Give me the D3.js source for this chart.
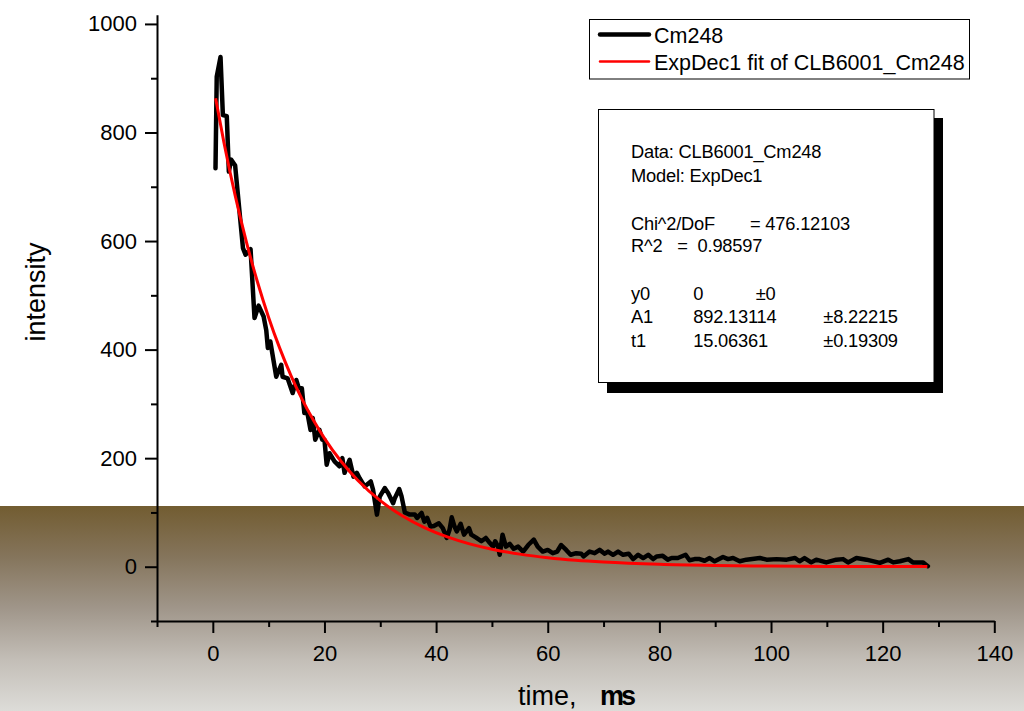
<!DOCTYPE html>
<html>
<head>
<meta charset="utf-8">
<script src="https://cdn.jsdelivr.net/npm/d3@7"></script>
<style>
  html, body { margin: 0; padding: 0; background: #fff; }
  svg { display: block; font-family: "Liberation Sans", Arial, sans-serif; }
</style>
</head>
<body>
<svg id="chart" width="1024" height="711"></svg>
<script>
// ---- data ----
const timeMs = [0.48,0.7,1.38,1.8,2.5,2.87,3.3,4.0,5.4,5.86,6.76,7.47,8.2,9.1,9.57,9.86,10.3,11.36,12.26,12.5,13.4,14.3,14.95,15.4,15.95,16.4,16.9,17.5,17.9,18.35,19.1,19.6,20.0,20.4,20.9,21.8,22.7,23.2,23.6,24.5,25.2,25.8,26.3,27.2,28.3,28.7,29.4,29.9,30.8,31.4,32.3,32.6,33.4,33.8,34.4,35.3,36.2,36.6,37.4,37.9,38.4,39.0,39.6,40.5,41.2,41.9,42.4,42.8,43.3,43.7,44.4,45.0,45.9,46.3,47.1,48.1,48.9,49.6,50.2,50.6,51.1,51.4,51.9,52.5,53.2,53.9,54.7,55.6,56.5,57.5,58.2,59.1,60.0,60.9,61.7,62.4,63.3,64.1,65.1,66.0,66.4,67.5,68.4,69.3,70.2,70.8,71.7,72.6,73.5,74.5,75.3,76.2,77.1,78.0,78.9,79.5,80.6,81.5,82.2,83.3,84.7,85.4,86.3,87.2,88.1,89.0,89.9,91.4,92.3,93.2,94.4,95.6,98.0,99.2,101.0,102.8,104.3,105.1,106.0,107.2,108.1,109.9,111.7,112.9,113.8,115.3,117.1,119.5,121.0,121.9,123.1,124.6,125.4,127.2,128.1];
const intensity = [734,903,939,832,830,728,750,739,587,575,585,458,481,461,436,403,415,350,372,350,347,320,344,329,329,283,286,252,274,234,252,234,234,188,209,194,185,200,173,197,166,173,163,148,157,142,96,129,145,136,117,126,143,130,100,96,96,90,99,83,90,74,75,80,71,53,68,91,74,65,79,59,71,59,54,47,53,44,37,47,37,22,59,37,42,33,37,28,40,50,37,28,31,25,28,40,31,22,25,24,19,28,25,31,24,28,22,28,22,24,14,22,16,22,14,19,20,13,16,16,22,12,14,14,11,16,10,18,14,16,10,13,16,13,14,13,16,10,16,8,13,8,13,14,8,16,13,7,13,8,10,14,8,8,1];

const fitTime = [0.5,2,4,6,8,10,12,14,16,18,20,23,26,30,34,38,42,46,50,55,60,65,70,80,90,100,110,120,128];
const fitValue = [863.0,781.2,684.1,599.0,524.5,459.3,402.2,352.2,308.4,270.1,236.5,193.8,158.8,121.8,93.4,71.6,54.9,42.1,32.3,23.2,16.6,11.9,8.6,4.4,2.3,1.2,0.6,0.3,0.2];

const xMajorTicks = [0,20,40,60,80,100,120,140];
const xMinorTicks = [-10,10,30,50,70,90,110,130];
const yMajorTicks = [0,200,400,600,800,1000];
const yMinorTicks = [-100,100,300,500,700,900];

const legendLabels = ["Cm248", "ExpDec1 fit of CLB6001_Cm248"];
const statsLines = [
  ["Data: CLB6001_Cm248"],
  ["Model: ExpDec1"],
  [],
  ["Chi^2/DoF", "= 476.12103"],
  ["R^2", "=  0.98597"],
  [],
  ["y0", "0", "±0"],
  ["A1", "892.13114", "±8.22215"],
  ["t1", "15.06361", "±0.19309"]
];

// ---- drawing ----
const svg = d3.select("#chart");
const defs = svg.append("defs");
const grad = defs.append("linearGradient").attr("id", "bg").attr("x1", 0).attr("y1", 0).attr("x2", 0).attr("y2", 1);
[[0, "#725c31"], [0.25, "#85755c"], [0.5, "#a0968a"], [0.75, "#c3beb7"], [1, "#dddcd8"]]
  .forEach(([o, c]) => grad.append("stop").attr("offset", o).attr("stop-color", c));

svg.append("rect").attr("x", 0).attr("y", 0).attr("width", 1024).attr("height", 711).attr("fill", "#fff");
svg.append("rect").attr("x", 0).attr("y", 506).attr("width", 1024).attr("height", 205).attr("fill", "url(#bg)");

const x = d3.scaleLinear().domain([-10, 140]).range([157, 994.3]);
const y = d3.scaleLinear().domain([-100, 1017]).range([621, 14.7]);

// axes
const gy = svg.append("g").attr("transform", "translate(157,0)");
gy.call(d3.axisLeft(y).tickValues(yMajorTicks).tickSize(12).tickSizeOuter(0).tickPadding(8).tickFormat(d3.format("d")));
const gyMinor = svg.append("g").attr("transform", "translate(157,0)");
gyMinor.call(d3.axisLeft(y).tickValues(yMinorTicks).tickSize(6).tickSizeOuter(0).tickFormat(""));
gyMinor.select(".domain").remove();

const gx = svg.append("g").attr("transform", "translate(0,621)");
gx.call(d3.axisBottom(x).tickValues(xMajorTicks).tickSize(12).tickSizeOuter(0).tickPadding(12).tickFormat(d3.format("d")));
const gxMinor = svg.append("g").attr("transform", "translate(0,621)");
gxMinor.call(d3.axisBottom(x).tickValues(xMinorTicks).tickSize(6).tickSizeOuter(0).tickFormat(""));
gxMinor.select(".domain").remove();

svg.selectAll(".domain, .tick line").attr("stroke", "#000").attr("stroke-width", 2);
svg.selectAll(".tick text").attr("font-size", 22).attr("fill", "#000")
  .attr("font-family", "'Liberation Sans', Arial, sans-serif");

// axis titles
svg.append("text").attr("transform", "translate(45,292) rotate(-90)")
  .attr("text-anchor", "middle").attr("font-size", 27).text("intensity");
const xt = svg.append("text").attr("y", 705).attr("font-size", 27);
xt.append("tspan").attr("x", 518).text("time,");
xt.append("tspan").attr("x", 600).attr("font-weight", "bold").attr("letter-spacing", -3).text("ms");

// data
const dataPts = timeMs.map((t, i) => [t, intensity[i]]);
const fitPts = fitTime.map((t, i) => [t, fitValue[i]]);
const line = d3.line().x(d => x(d[0])).y(d => y(d[1]));

svg.append("path").datum(dataPts).attr("d", line.curve(d3.curveLinear))
  .attr("fill", "none").attr("stroke", "#000").attr("stroke-width", 4.5)
  .attr("stroke-linejoin", "round").attr("stroke-linecap", "round");
svg.append("path").datum(fitPts).attr("d", d3.line().x(d => x(d[0])).y(d => y(d[1])).curve(d3.curveMonotoneX))
  .attr("fill", "none").attr("stroke", "#ff0000").attr("stroke-width", 3);

// legend
const lg = svg.append("g");
lg.append("rect").attr("x", 589.5).attr("y", 19.5).attr("width", 380).attr("height", 59.5)
  .attr("fill", "#fff").attr("stroke", "#000").attr("stroke-width", 1);
const legendColors = ["#000", "#ff0000"];
const legendWidths = [4.5, 2.5];
legendLabels.forEach((lab, i) => {
  const yy = 34.5 + i * 27;
  lg.append("line").attr("x1", 600).attr("x2", 649).attr("y1", yy).attr("y2", yy)
    .attr("stroke", legendColors[i]).attr("stroke-width", legendWidths[i]).attr("stroke-linecap", "round");
  lg.append("text").attr("x", 654).attr("y", yy + 8).attr("font-size", 21.5).text(lab);
});

// stats box
const sb = svg.append("g");
sb.append("rect").attr("x", 607).attr("y", 118).attr("width", 336).attr("height", 275).attr("fill", "#000");
sb.append("rect").attr("x", 598.5).attr("y", 109.5).attr("width", 335.5).attr("height", 273)
  .attr("fill", "#fff").attr("stroke", "#000").attr("stroke-width", 1);
const colX = {
  default: [631, 693.3, 755.7],
  wide: [631, 750],
  r2: [631, 677.3],
  param: [631, 693.3, 823.3]
};
const baselines = [158, 181.5, 0, 229.5, 252, 0, 299.5, 323, 346.5];
statsLines.forEach((parts, i) => {
  if (!parts.length) return;
  let cols;
  if (i === 3) cols = colX.wide;
  else if (i === 4) cols = colX.r2;
  else if (i === 6) cols = colX.default;
  else if (i >= 7) cols = colX.param;
  else cols = [631];
  parts.forEach((p, j) => {
    sb.append("text").attr("x", cols[j]).attr("y", baselines[i]).attr("font-size", 18.3)
      .attr("letter-spacing", -0.2)
      .attr("xml:space", "preserve").style("white-space", "pre").text(p);
  });
});
</script>
</body>
</html>
